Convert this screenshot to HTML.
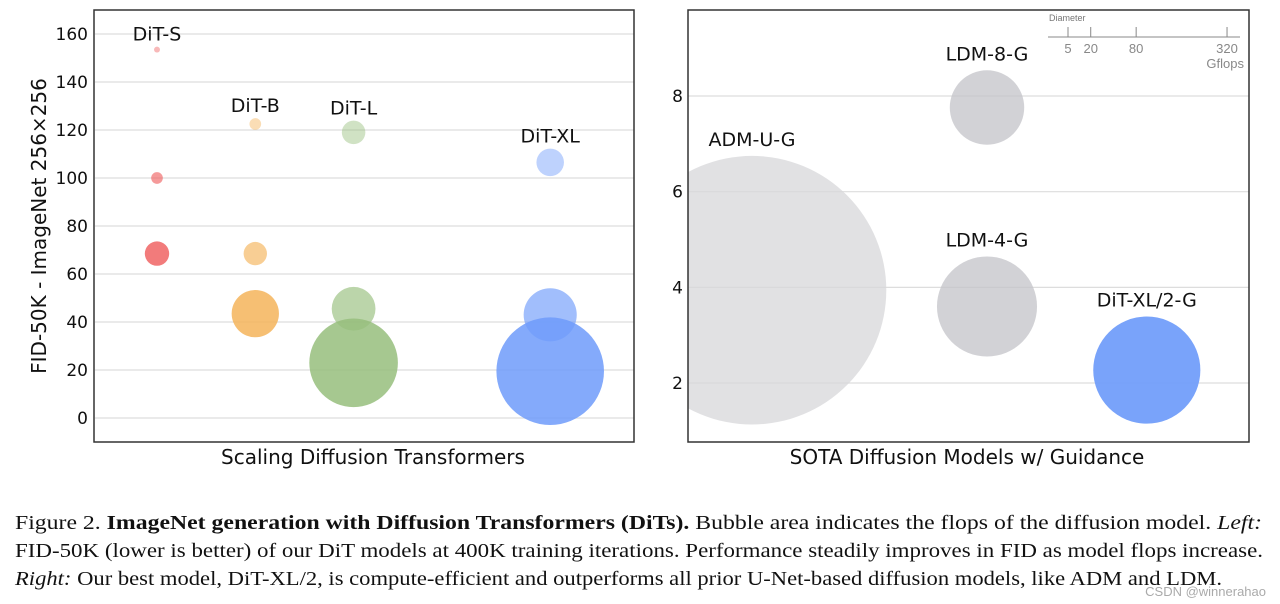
<!DOCTYPE html>
<html><head><meta charset="utf-8"><style>
html,body{margin:0;padding:0;background:#fff;}
svg{display:block;}
.t{font-family:"DejaVu Sans","Liberation Sans",sans-serif;fill:#111;}
.cap{font-family:"Liberation Serif",serif;fill:#111;font-size:20.5px;}
</style></head><body>
<svg id="fig" width="1280" height="604" viewBox="0 0 1280 604">
<g id="left"></g>
<g id="right"></g>
<g>
<text class="cap" x="15" y="529" textLength="1247" lengthAdjust="spacingAndGlyphs">Figure 2.  <tspan font-weight="bold">ImageNet generation with Diffusion Transformers (DiTs).</tspan>  Bubble area indicates the flops of the diffusion model.  <tspan font-style="italic">Left:</tspan></text>
<text class="cap" x="15" y="557" textLength="1248" lengthAdjust="spacingAndGlyphs">FID-50K (lower is better) of our DiT models at 400K training iterations.  Performance steadily improves in FID as model flops increase.</text>
<text class="cap" x="15" y="585" textLength="1207" lengthAdjust="spacingAndGlyphs"><tspan font-style="italic">Right:</tspan> Our best model, DiT-XL/2, is compute-efficient and outperforms all prior U-Net-based diffusion models, like ADM and LDM.</text>
</g>
<text x="1266" y="596" text-anchor="end" font-family="Liberation Sans,sans-serif" font-size="13" fill="#aaa">CSDN @winnerahao</text>
</svg>
<script>
const NS="http://www.w3.org/2000/svg";
// Left chart data
const leftModels=["DiT-S","DiT-B","DiT-L","DiT-XL"];
const leftX=[0,1,2,4];
const leftFid=[[153.5,100,68.5],[122.5,68.5,43.5],[119,45.5,23],[106.5,43,19.5]];
const leftGflops=[[0.36,1.4,6.1],[1.4,5.6,23],[5.7,19.7,80.7],[7.8,29,119]];
const leftTicks=[0,20,40,60,80,100,120,140,160];
// Right chart data
const rightModels=["ADM-U-G","LDM-8-G","LDM-4-G","DiT-XL/2-G"];
const rightX=[0,1,1,1.68];
const rightFid=[3.94,7.76,3.6,2.27];
const rightGflops=[742,57,103,118];
const rightTicks=[2,4,6,8];
const legendTicks=[5,20,80,320];

function el(tag,attrs,parent,text){const e=document.createElementNS(NS,tag);for(const k in attrs)e.setAttribute(k,attrs[k]);if(text!==undefined)e.textContent=text;parent.appendChild(e);return e;}
const K=4.93;
const rad=g=>K*Math.sqrt(g);

// LEFT
const L=document.getElementById('left');
const lx=v=>157+v*98.3, ly=v=>418-v*2.4;
const lcol=["240,100,100","245,180,90","150,190,125","110,155,250"];
const lop=[0.45,0.65,0.85];
leftTicks.forEach(t=>{
 const g=el('line',{x1:95,x2:634,y1:ly(t),y2:ly(t),stroke:'#ddd','stroke-width':1.2},L);
 
 const tx=el('text',{class:'t',x:88,y:ly(t)+6,'text-anchor':'end','font-size':17},L,String(t));
 
});
leftModels.forEach((m,i)=>{
 leftFid[i].forEach((f,j)=>{
  const c=el('circle',{cx:lx(leftX[i]),cy:ly(f),r:rad(leftGflops[i][j]),fill:`rgba(${lcol[i]},${lop[j]})`},L);
  
 });
 const topY=ly(leftFid[i][0])-rad(leftGflops[i][0]);
 const lb=el('text',{class:'t',x:lx(leftX[i]),y:topY-6,'text-anchor':'middle','font-size':19},L,m);
 
});
const lf=el('rect',{x:94,y:10,width:540,height:432,fill:'none',stroke:'#333','stroke-width':1.5},L);

const lyt=el('text',{class:'t',x:0,y:0,'text-anchor':'middle','font-size':20,transform:'translate(46,226) rotate(-90)'},L,'FID-50K - ImageNet 256×256');

const lxt=el('text',{class:'t',x:373,y:464,'text-anchor':'middle','font-size':20},L,'Scaling Diffusion Transformers');


// RIGHT
const R=document.getElementById('right');
const rx=v=>752+v*235, ry=v=>383-(v-2)*47.83;
const rcol=["rgba(215,215,218,0.75)","rgba(195,195,200,0.75)","rgba(195,195,200,0.75)","rgba(110,155,250,0.92)"];
const defs=el('defs',{},R);const cp=el('clipPath',{id:'rc'},defs);el('rect',{x:688,y:10,width:561,height:432},cp);
rightTicks.forEach(t=>{
 const g=el('line',{x1:688,x2:1249,y1:ry(t),y2:ry(t),stroke:'#ddd','stroke-width':1.2},R);
 
 const tx=el('text',{class:'t',x:683,y:ry(t)+6,'text-anchor':'end','font-size':17},R,String(t));
 
});
const bg=el('g',{'clip-path':'url(#rc)'},R);
rightModels.forEach((m,i)=>{
 const r=rad(rightGflops[i]);
 const c=el('circle',{cx:rx(rightX[i]),cy:ry(rightFid[i]),r:r,fill:rcol[i]},bg);
 
 const lb=el('text',{class:'t',x:rx(rightX[i]),y:ry(rightFid[i])-r-10,'text-anchor':'middle','font-size':19},R,m);
 
});
const rf=el('rect',{x:688,y:10,width:561,height:432,fill:'none',stroke:'#333','stroke-width':1.5},R);

const rxt=el('text',{class:'t',x:967,y:464,'text-anchor':'middle','font-size':20},R,'SOTA Diffusion Models w/ Guidance');

// legend
const lg=el('g',{},R);

el('text',{x:1049,y:21,'font-family':'Liberation Sans,sans-serif','font-size':9,fill:'#777'},lg,'Diameter');
el('line',{x1:1048,x2:1240,y1:37,y2:37,stroke:'#888','stroke-width':1},lg);
const legX=v=>1068+(Math.sqrt(v)-Math.sqrt(5))*10.16;
legendTicks.forEach(t=>{
 el('line',{x1:legX(t),x2:legX(t),y1:27,y2:37,stroke:'#888','stroke-width':1},lg);
 const tx=el('text',{x:legX(t),y:53,'text-anchor':'middle','font-family':'Liberation Sans,sans-serif','font-size':13,fill:'#888'},lg,String(t));
 
});
el('text',{x:1244,y:68,'text-anchor':'end','font-family':'Liberation Sans,sans-serif','font-size':13,fill:'#888'},lg,'Gflops');
</script>
</body></html>
